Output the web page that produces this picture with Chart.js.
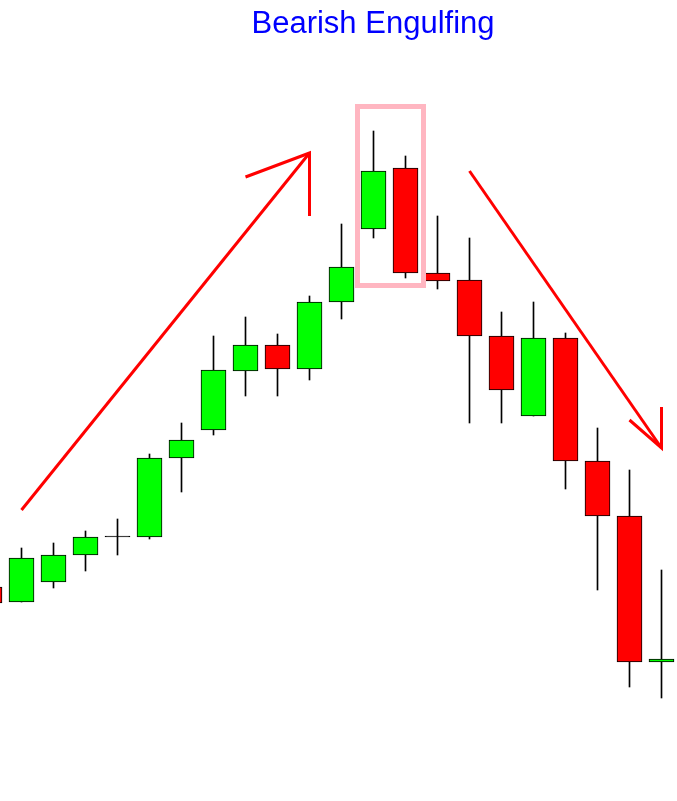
<!DOCTYPE html>
<html>
<head>
<meta charset="utf-8">
<script src="https://cdn.jsdelivr.net/npm/chart.js@4/dist/chart.umd.min.js"></script>
<style>
  html, body { margin: 0; padding: 0; background: #fff; }
  #wrap { width: 677px; height: 801px; }
</style>
</head>
<body>
<div id="wrap"><canvas id="chart" width="677" height="801"></canvas></div>
<script>
// candle index on x, price (arbitrary units) on y
const candleIdx = [0, 1, 2, 3, 4, 5, 6, 7, 8, 9, 10, 11, 12, 13, 14, 15, 16, 17, 18, 19, 20, 21];
const opens  = [214, 199, 219, 246, 264, 264, 343, 371, 430, 456, 432, 499, 572, 633, 528, 521, 465, 385, 463, 340, 285, 139];
const closes = [198, 243, 246, 264, 264, 343, 361, 431, 456, 432, 499, 534, 630, 528, 520, 465, 411, 463, 340, 285, 139, 142];
const highs  = [214, 253, 258, 270, 282, 347, 378, 465, 484, 467, 505, 577, 670, 645, 585, 563, 489, 499, 468, 373, 331, 231];
const lows   = [198, 199, 213, 230, 246, 262, 309, 366, 405, 405, 421, 482, 563, 523, 512, 378, 378, 385, 312, 211, 114, 103];

// annotations (same x / y units as the candles)
const upArrowX = [1, 10];
const upArrowY = [291, 648];
const upHeadX = [8, 10, 10];
const upHeadY = [624, 648, 585];
const downArrowX = [15, 21];
const downArrowY = [630, 353];
const downHeadX = [20, 21, 21];
const downHeadY = [381, 353, 394];
const boxX = [12.53, 13.5625, 13.5625, 11.5, 11.5, 12.53];
const boxY = [694.5, 694.5, 515.5, 515.5, 694.5, 694.5];

const titleText = 'Bearish Engulfing';

const toPoints = (xs, ys) => xs.map((x, i) => ({ x: x, y: ys[i] }));

const bodyColors = candleIdx.map(i => {
    if (closes[i] > opens[i]) return '#00ff00';
    if (closes[i] < opens[i]) return '#ff0000';
    return '#000000';
});

const titlePlugin = {
    id: 'topTitle',
    afterDraw(chart) {
        const ctx = chart.ctx;
        ctx.save();
        ctx.font = '31px "Liberation Sans", Arial, sans-serif';
        ctx.fillStyle = '#0000ff';
        ctx.textAlign = 'center';
        ctx.textBaseline = 'alphabetic';
        ctx.fillText(titleText, 373, 33);
        ctx.restore();
    }
};

const lineDs = (pts, color, width, order) => ({
    type: 'line',
    data: pts,
    borderColor: color,
    borderWidth: width,
    pointRadius: 0,
    tension: 0,
    fill: false,
    borderJoinStyle: 'miter',
    borderCapStyle: 'butt',
    order: order
});

new Chart(document.getElementById('chart'), {
    type: 'bar',
    data: {
        datasets: [
            lineDs(toPoints(upArrowX, upArrowY), '#ff0000', 3, 0),
            lineDs(toPoints(upHeadX, upHeadY), '#ff0000', 3, 0),
            lineDs(toPoints(downArrowX, downArrowY), '#ff0000', 3, 0),
            lineDs(toPoints(downHeadX, downHeadY), '#ff0000', 3, 0),
            lineDs(toPoints(boxX, boxY), '#ffb6c1', 5, 0),
            {
                // bodies
                data: candleIdx.map(i => ({ x: i, y: [opens[i], closes[i]] })),
                backgroundColor: bodyColors,
                borderColor: '#000000',
                borderWidth: 1,
                borderSkipped: false,
                barThickness: 25,
                minBarLength: 1,
                grouped: false,
                order: 1
            },
            {
                // wicks
                data: candleIdx.map(i => ({ x: i, y: [lows[i], highs[i]] })),
                backgroundColor: '#000000',
                borderWidth: 0,
                barThickness: 1,
                grouped: false,
                order: 2
            }
        ]
    },
    options: {
        responsive: false,
        animation: false,
        events: [],
        layout: { padding: 0 },
        plugins: {
            legend: { display: false },
            tooltip: { enabled: false },
            title: { display: false }
        },
        scales: {
            x: {
                type: 'linear',
                display: false,
                offset: false,
                min: 10.5 / 32,
                max: 10.5 / 32 + 677 / 32
            },
            y: {
                display: false,
                min: 0,
                max: 801
            }
        }
    },
    plugins: [titlePlugin]
});
</script>
</body>
</html>
